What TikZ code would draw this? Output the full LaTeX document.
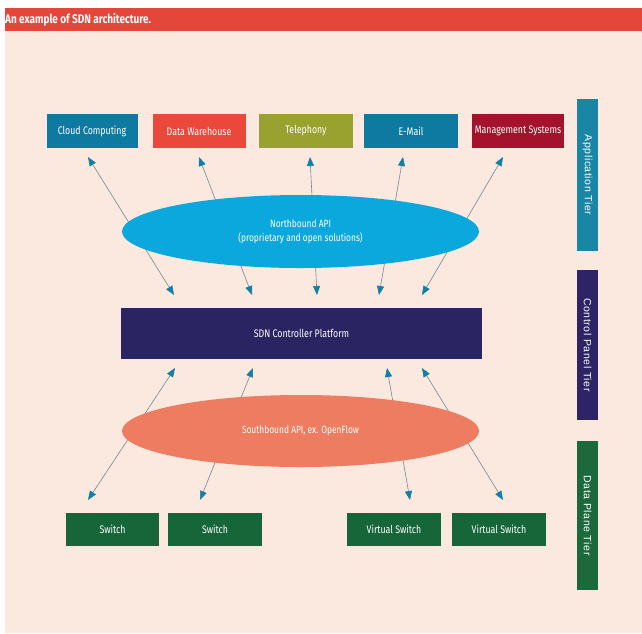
\documentclass[tikz,border=0pt]{standalone}
\usepackage{fontspec}
\setmainfont{Fira Sans}[FakeStretch=0.8]
\newfontfamily\tierfont{Liberation Sans}[LetterSpace=6]
\usetikzlibrary{shapes.geometric}
\usetikzlibrary{arrows.meta}

\definecolor{bannerred}{HTML}{E5463A}
\definecolor{bgpeach}{HTML}{FBE8DF}
\definecolor{cloudblue}{HTML}{0E7AA2}
\definecolor{whred}{HTML}{E9483B}
\definecolor{olive}{HTML}{9AA22F}
\definecolor{mgmtred}{HTML}{A5122B}
\definecolor{nbblue}{HTML}{0BA8DE}
\definecolor{ctrlnavy}{HTML}{2A2462}
\definecolor{sbsalmon}{HTML}{EE7C60}
\definecolor{swgreen}{HTML}{17663A}
\definecolor{apptier}{HTML}{1A86A6}
\definecolor{ctrltier}{HTML}{2C2465}
\definecolor{datatier}{HTML}{1C6A3C}
\definecolor{linegray}{HTML}{6F8A96}
\definecolor{tipblue}{HTML}{127FA5}

\begin{document}
\begin{tikzpicture}[x=1pt, y=-1pt,
    appbox/.style={minimum height=34pt, inner sep=0pt, text=white, font=\fontsize{11}{12}\selectfont},
    switchbox/.style={fill=swgreen, minimum width=93pt, minimum height=33pt, inner sep=0pt, text=white, font=\fontsize{11}{12}\selectfont},
    apiellipse/.style={ellipse, minimum width=357pt, inner sep=0pt, text=white, align=center, font=\fontsize{10.5}{13.5}\selectfont},
    tierbar/.style={minimum width=150pt, minimum height=21pt, inner sep=0pt, rotate=-90, text=white, font=\tierfont\fontsize{10.5}{12}\selectfont},
    link/.style={draw=linegray, line width=0.6pt, {Triangle[length=9pt,width=7pt,color=tipblue]}-{Triangle[length=9pt,width=7pt,color=tipblue]}}]
    \useasboundingbox (0,0) rectangle (642,633);

    % banner and background
    \fill[bgpeach] (5,31) rectangle (642,633);
    \fill[bannerred] (5,8) rectangle (642,31);
    \node[anchor=west, text=white, inner sep=0pt, font=\bfseries\fontsize{12.5}{13}\selectfont] (title) at (5,19.5) {An example of SDN architecture.};

    % application tier
    \node[appbox, fill=cloudblue, minimum width=91pt] (cloud) at (92,131) {Cloud Computing};
    \node[appbox, fill=whred, minimum width=93pt] (dwh) at (199,131) {Data Warehouse};
    \node[appbox, fill=olive, minimum width=94pt] (tel) at (306,131) {Telephony};
    \node[appbox, fill=cloudblue, minimum width=94pt] (mail) at (411,131) {E-Mail};
    \node[appbox, fill=mgmtred, minimum width=92pt] (mgmt) at (518,131) {Management Systems};

    % control tier
    \node[fill=ctrlnavy, minimum width=361pt, minimum height=51pt, inner sep=0pt, text=white, font=\fontsize{11}{12}\selectfont] (ctrl) at (301.5,333.5) {SDN Controller Platform};

    % data tier
    \node[switchbox] (sw1) at (112.5,529.5) {Switch};
    \node[switchbox, minimum width=94pt] (sw2) at (215,529.5) {Switch};
    \node[switchbox, minimum width=94pt] (vs1) at (394,529.5) {Virtual Switch};
    \node[switchbox, minimum width=94pt] (vs2) at (499,529.5) {Virtual Switch};

    % arrow ends
    \coordinate (nu1) at (88,157);
    \coordinate (nu2) at (199,157);
    \coordinate (nu3) at (310,157);
    \coordinate (nu4) at (403,157);
    \coordinate (nu5) at (503,157);
    \coordinate (nd1) at (174,295);
    \coordinate (nd2) at (252,295);
    \coordinate (nd3) at (317,295);
    \coordinate (nd4) at (379,295);
    \coordinate (nd5) at (422,295);
    \coordinate (su1) at (175,368);
    \coordinate (su2) at (253,368);
    \coordinate (su3) at (387,368);
    \coordinate (su4) at (422,368);
    \coordinate (sd1) at (88,500);
    \coordinate (sd2) at (200,500);
    \coordinate (sd3) at (410,500);
    \coordinate (sd4) at (503,500);

    \draw[link] (nu1) -- (nd1);
    \draw[link] (nu2) -- (nd2);
    \draw[link] (nu3) -- (nd3);
    \draw[link] (nu4) -- (nd4);
    \draw[link] (nu5) -- (nd5);
    \draw[link] (su1) -- (sd1);
    \draw[link] (su2) -- (sd2);
    \draw[link] (su3) -- (sd3);
    \draw[link] (su4) -- (sd4);

    % APIs
    \node[apiellipse, fill=nbblue, minimum height=73pt] (north) at (300.5,231.5) {Northbound API\\(proprietary and open solutions)};
    \node[apiellipse, fill=sbsalmon, minimum height=72pt] (south) at (300.5,431) {Southbound API, ex. OpenFlow};

    % tiers
    \node[tierbar, fill=apptier, minimum width=152pt] (apptierbar) at (587.5,175) {Application Tier};
    \node[tierbar, fill=ctrltier] (ctrltierbar) at (587.5,345) {Control Panel Tier};
    \node[tierbar, fill=datatier, minimum width=149pt] (datatierbar) at (587.5,515.5) {Data Plane Tier};
\end{tikzpicture}
\end{document}
